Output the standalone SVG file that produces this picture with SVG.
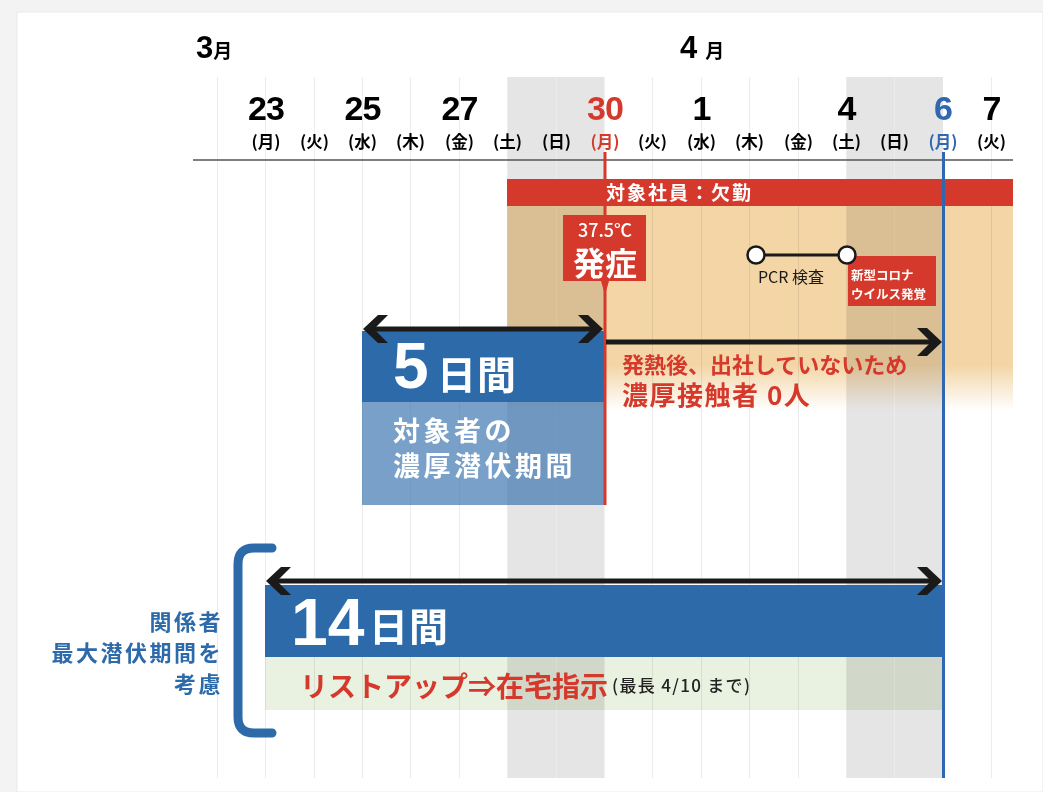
<svg xmlns="http://www.w3.org/2000/svg" width="1043" height="792" viewBox="0 0 1043 792">
<defs>
<style>
.jp{font-family:"Noto Sans CJK JP","Noto Sans",sans-serif;font-weight:700}
.num{font-family:"Liberation Sans",Arial,sans-serif;font-weight:700}
.day{font-size:34px;text-anchor:middle;letter-spacing:-1px}
.wd{font-size:16.5px;text-anchor:middle}
.grid{stroke:#ececec;stroke-width:1}
.band{fill:#e5e5e5}
.arrow{stroke:#1a1a1a;stroke-width:5;fill:none;marker-start:url(#chev);marker-end:url(#chev)}
.arrow1{stroke:#1a1a1a;stroke-width:5;fill:none;marker-end:url(#chev)}
.red{fill:#d5392c}
.blue{fill:#2d6aa9}
</style>
<linearGradient id="og" x1="0" y1="0" x2="0" y2="1">
<stop offset="0" stop-color="#f3d5a6" stop-opacity="1"/>
<stop offset="0.78" stop-color="#f3d5a6" stop-opacity="1"/>
<stop offset="1" stop-color="#f3d5a6" stop-opacity="0"/>
</linearGradient>
<marker id="chev" viewBox="0 0 27 30" refX="23" refY="15" markerWidth="27" markerHeight="30" markerUnits="userSpaceOnUse" orient="auto-start-reverse">
<path d="M1,1 L11,1 L26,15 L11,29 L1,29 L15,15 Z" fill="#1a1a1a"/>
</marker>
</defs>

<rect x="0" y="0" width="1043" height="792" fill="#f3f3f3"/>
<rect x="17" y="12" width="1026" height="780" fill="#ffffff" stroke="#e9e9e9" stroke-width="1"/>

<g id="weekend-bands">
<rect class="band" x="508" y="77" width="96.5" height="701"/>
<rect class="band" x="846.5" y="77" width="96.5" height="701"/>
</g>

<g id="grid">
<line class="grid" x1="217.5" y1="77" x2="217.5" y2="778"/>
<line class="grid" x1="265.5" y1="77" x2="265.5" y2="778"/>
<line class="grid" x1="314.5" y1="77" x2="314.5" y2="778"/>
<line class="grid" x1="362.5" y1="77" x2="362.5" y2="778"/>
<line class="grid" x1="410.5" y1="77" x2="410.5" y2="778"/>
<line class="grid" x1="459.5" y1="77" x2="459.5" y2="778"/>
<line class="grid" x1="507.5" y1="77" x2="507.5" y2="778"/>
<line class="grid" x1="556.5" y1="77" x2="556.5" y2="778"/>
<line class="grid" x1="652.5" y1="77" x2="652.5" y2="778"/>
<line class="grid" x1="701.5" y1="77" x2="701.5" y2="778"/>
<line class="grid" x1="749.5" y1="77" x2="749.5" y2="778"/>
<line class="grid" x1="798.5" y1="77" x2="798.5" y2="778"/>
<line class="grid" x1="846.5" y1="77" x2="846.5" y2="778"/>
<line class="grid" x1="894.5" y1="77" x2="894.5" y2="778"/>
<line class="grid" x1="991.5" y1="77" x2="991.5" y2="778"/>
</g>

<g id="absence-zone">
<rect x="507" y="206" width="506" height="204" fill="url(#og)" style="mix-blend-mode:multiply"/>
<rect x="507" y="179" width="506" height="27" class="red"/>
<text x="606" y="200" class="jp" font-size="19" fill="#ffffff" letter-spacing="2">対象社員：欠勤</text>
</g>

<g id="axis">
<line x1="193" y1="160" x2="1013" y2="160" stroke="#555555" stroke-width="1.5"/>
<text x="196" y="58"><tspan class="num" font-size="31">3</tspan><tspan class="jp" font-size="19">月</tspan></text>
<text x="680" y="58"><tspan class="num" font-size="31">4</tspan><tspan class="jp" font-size="19" dx="8">月</tspan></text>
<g class="num">
<text class="day" x="266" y="120">23</text>
<text class="day" x="362.5" y="120">25</text>
<text class="day" x="459.5" y="120">27</text>
<text class="day" x="605" y="120" fill="#d5392c">30</text>
<text class="day" x="701.5" y="120">1</text>
<text class="day" x="846.5" y="120">4</text>
<text class="day" x="943" y="120" fill="#2f67b1">6</text>
<text class="day" x="991.5" y="120">7</text>
</g>
<g class="jp">
<text class="wd" x="266" y="148">(月)</text>
<text class="wd" x="314.5" y="148">(火)</text>
<text class="wd" x="362.5" y="148">(水)</text>
<text class="wd" x="410.5" y="148">(木)</text>
<text class="wd" x="459.5" y="148">(金)</text>
<text class="wd" x="507.5" y="148">(土)</text>
<text class="wd" x="556.5" y="148">(日)</text>
<text class="wd" x="605" y="148" fill="#d5392c">(月)</text>
<text class="wd" x="652.5" y="148">(火)</text>
<text class="wd" x="701.5" y="148">(水)</text>
<text class="wd" x="749.5" y="148">(木)</text>
<text class="wd" x="798.5" y="148">(金)</text>
<text class="wd" x="846.5" y="148">(土)</text>
<text class="wd" x="894.5" y="148">(日)</text>
<text class="wd" x="943" y="148" fill="#2f67b1">(月)</text>
<text class="wd" x="991.5" y="148">(火)</text>
</g>
</g>

<g id="box-5days">
<rect x="362" y="331" width="242" height="71" class="blue"/>
<rect x="362" y="402" width="242" height="103" fill="#2d6aa9" fill-opacity="0.64"/>
<text x="393" y="388" class="num" font-size="64" fill="#ffffff">5</text>
<text x="437" y="389" class="jp" font-size="39" fill="#ffffff" letter-spacing="1">日間</text>
<text x="393" y="441" class="jp" font-size="27" fill="#ffffff" letter-spacing="3.5">対象者の</text>
<text x="393" y="476" class="jp" font-size="27" fill="#ffffff" letter-spacing="3.5">濃厚潜伏期間</text>
</g>

<g id="box-14days">
<rect x="265" y="585" width="678" height="72" class="blue"/>
<rect x="265" y="657" width="678" height="53" fill="#e9f1e0" style="mix-blend-mode:multiply"/>
<text x="291" y="645" class="num" font-size="66" fill="#ffffff">14</text>
<text x="369" y="641" class="jp" font-size="39" fill="#ffffff" letter-spacing="1">日間</text>
<text x="300" y="697" class="jp" font-size="28" fill="#d5392c">リストアップ⇒在宅指示</text>
<text x="612" y="692" font-family="Noto Sans CJK JP, Noto Sans, sans-serif" font-weight="500" font-size="17" fill="#222222" textLength="138" lengthAdjust="spacing">(最長 4/10 まで)</text>
</g>

<g id="markers-lines">
<line x1="605" y1="152" x2="605" y2="505" stroke="#d5392c" stroke-width="3"/>
<line x1="943.5" y1="152" x2="943.5" y2="778" stroke="#2f67b1" stroke-width="3"/>
</g>

<g id="connectors">
<line class="arrow" x1="366" y1="329" x2="600" y2="329"/>
<line class="arrow1" x1="606" y1="342" x2="939" y2="342"/>
<line class="arrow" x1="269" y1="581" x2="939" y2="581"/>
<line x1="756" y1="255" x2="847" y2="255" stroke="#1a1a1a" stroke-width="3"/>
</g>

<g id="onset">
<path d="M563,215 H646 V281 H609 L605,295 L601,281 H563 Z" class="red"/>
<text x="605" y="237" font-family="Noto Sans CJK JP, Noto Sans, sans-serif" font-weight="500" font-size="18" fill="#ffffff" text-anchor="middle">37.5℃</text>
<text x="605" y="275" class="jp" font-size="32" fill="#ffffff" text-anchor="middle">発症</text>
</g>

<g id="pcr">
<circle cx="756" cy="255" r="8.5" fill="#ffffff" stroke="#1a1a1a" stroke-width="2.5"/>
<text x="791" y="283" font-family="Noto Sans CJK JP, Noto Sans, sans-serif" font-weight="400" font-size="16" fill="#1a1a1a" text-anchor="middle">PCR 検査</text>
</g>

<g id="covid-found">
<rect x="848" y="256" width="88" height="50" class="red"/>
<circle cx="847" cy="255" r="8.5" fill="#ffffff" stroke="#1a1a1a" stroke-width="2.5"/>
<text x="851" y="280" class="jp" font-size="12.5" fill="#ffffff">新型コロナ</text>
<text x="851" y="299" class="jp" font-size="12.5" fill="#ffffff">ウイルス発覚</text>
</g>

<g id="no-contact">
<text x="622" y="373" class="jp" font-size="22" fill="#d5392c">発熱後、出社していないため</text>
<text x="622" y="405" class="jp" font-size="26" fill="#d5392c" letter-spacing="1.5">濃厚接触者 0人</text>
</g>

<g id="related-label">
<path d="M272,548 H254 Q238,548 238,564 V717 Q238,733 254,733 H272" fill="none" stroke="#2d6aa9" stroke-width="9" stroke-linecap="round"/>
<g class="jp" font-size="22" fill="#2d6aa9" text-anchor="end" letter-spacing="2.5">
<text x="223" y="630">関係者</text>
<text x="223" y="661">最大潜伏期間を</text>
<text x="223" y="692">考慮</text>
</g>
</g>
</svg>
